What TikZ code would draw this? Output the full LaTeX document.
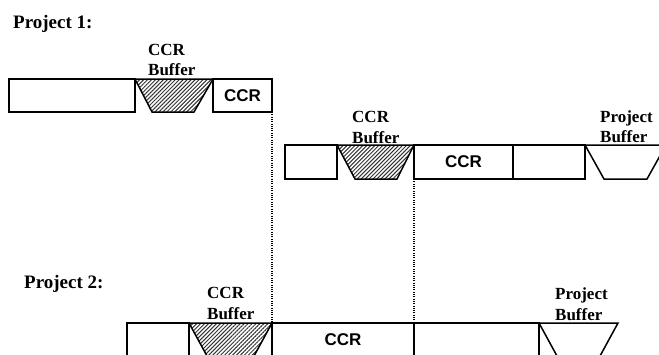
\documentclass[tikz,border=0pt]{standalone}
\usepackage{fontspec}
\setmainfont{Liberation Serif}
\newfontfamily\boxfont{Liberation Sans}
\usetikzlibrary{patterns.meta}
\begin{document}
\begin{tikzpicture}[x=1pt,y=-1pt,
  box/.style={draw, line width=1.5pt, inner sep=0pt, outer sep=0pt, anchor=north west},
  trap/.style={draw, line width=1.5pt, line join=miter},
  hatch/.style={pattern={Lines[angle=45,distance=2.8pt,line width=1pt]}, pattern color=black!80},
  lbl/.style={font=\fontsize{17}{20}\selectfont\bfseries, anchor=base west, inner sep=0pt},
  ttl/.style={font=\fontsize{19}{22}\selectfont\bfseries, anchor=base west, inner sep=0pt},
  ccr/.style={font=\boxfont\fontsize{17}{20}\selectfont\bfseries},
  dot/.style={line width=1.6pt, dash pattern=on 1pt off 1.3pt}]
\useasboundingbox (0,0) rectangle (659,354);
\clip (0,0) rectangle (659,354);

% Project 1
\node[ttl] (t1) at (13,28) {Project 1:};
\node[box, minimum width=126pt, minimum height=33pt] (p1a) at (9,79) {};
\node[box, ccr, minimum width=59pt, minimum height=33pt] (p1c) at (213,79) {CCR};
\draw[trap, hatch] (p1a.north east) -- ++(17,33) -- ++(42,0) -- (p1c.north west) -- cycle;
\node[lbl] (l1a) at (148,55) {CCR};
\node[lbl] (l1b) at (148,75) {Buffer};

% Project 1, second chain
\node[box, minimum width=52pt, minimum height=34pt] (q1) at (285,145) {};
\node[box, ccr, minimum width=99pt, minimum height=34pt] (q2) at (414,145) {CCR};
\node[box, minimum width=72pt, minimum height=34pt, line width=2pt] (q3) at (513,145) {};
\draw[trap, hatch] (q1.north east) -- ++(18,34) -- ++(42,0) -- (q2.north west) -- cycle;
\draw[trap] (q3.north east) -- ++(19,34) -- ++(43,0) -- ++(19,-34) -- cycle;
\node[lbl] (l2a) at (352,122) {CCR};
\node[lbl] (l2b) at (352,143) {Buffer};
\node[lbl] (l3a) at (600,122) {Project};
\node[lbl] (l3b) at (600,142) {Buffer};

% Project 2
\node[ttl] (t2) at (24,288) {Project 2:};
\node[box, minimum width=62pt, minimum height=33pt] (r1) at (127,323) {};
\node[box, ccr, minimum width=142pt, minimum height=33pt] (r2) at (272,323) {CCR};
\node[box, minimum width=125pt, minimum height=33pt] (r3) at (414,323) {};
\draw[trap, hatch] (r1.north east) -- ++(18,33) -- ++(47,0) -- (r2.north west) -- cycle;
\draw[trap] (r3.north east) -- ++(18,33) -- ++(43,0) -- ++(18,-33) -- cycle;
\node[lbl] (l4a) at (207,298) {CCR};
\node[lbl] (l4b) at (207,319) {Buffer};
\node[lbl] (l5a) at (555,299) {Project};
\node[lbl] (l5b) at (555,320) {Buffer};

% dotted alignment lines
\draw[dot] (p1c.south east) -- (r2.north west);
\draw[dot] (q2.south west) -- (r2.north east);
\end{tikzpicture}
\end{document}
